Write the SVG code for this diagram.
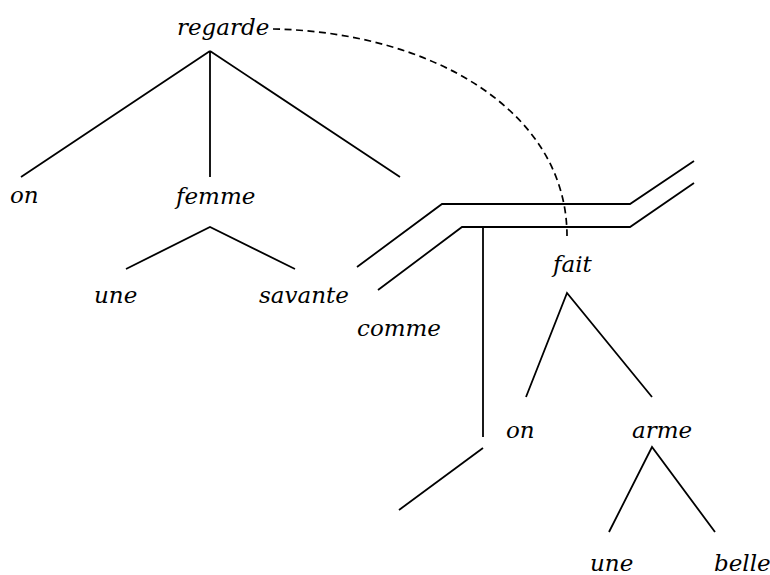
<svg xmlns="http://www.w3.org/2000/svg" width="770" height="575" viewBox="0 0 770 575">
<style>
text{font-family:"DejaVu Serif","Liberation Serif",serif;font-style:italic;font-size:23px;fill:#000}
.e{stroke:#000;stroke-width:1.8;fill:none;stroke-linecap:butt}
.d{stroke:#000;stroke-width:1.7;fill:none;stroke-dasharray:7 4.5}
</style>
<rect width="770" height="575" fill="#fff"/>
<g id="connectors">
<path class="e" d="M210,51 L21,177 M210,51 L210,177 M210,51 L400,177"/>
<path class="e" d="M126,269 L210,227 L295,269"/>
<path class="e" d="M357,267 L442,204 L630,204 L694,161"/>
<path class="e" d="M378,290 L462,227 L630,227 L694,183"/>
<path class="e" d="M483,227 L483,437"/>
<path class="e" d="M483,448 L399,510"/>
<path class="e" d="M526,397 L567,293 L652,397"/>
<path class="e" d="M609,532 L652,447 L715,532"/>
<path class="d" d="M273,29 C430,32 567,110 567,236"/>
</g>
<g id="n-regarde"><text x="177" y="35">regarde</text></g>
<g id="n-on1"><text x="10" y="203">on</text></g>
<g id="n-femme"><text x="176" y="204">femme</text></g>
<g id="n-une1"><text x="94" y="303">une</text></g>
<g id="n-savante"><text x="259" y="303">savante</text></g>
<g id="n-comme"><text x="357" y="336">comme</text></g>
<g id="n-fait"><text x="553" y="272">fait</text></g>
<g id="n-on2"><text x="506" y="438">on</text></g>
<g id="n-arme"><text x="632" y="438">arme</text></g>
<g id="n-une2"><text x="590" y="571">une</text></g>
<g id="n-belle"><text x="714" y="571">belle</text></g>
</svg>
